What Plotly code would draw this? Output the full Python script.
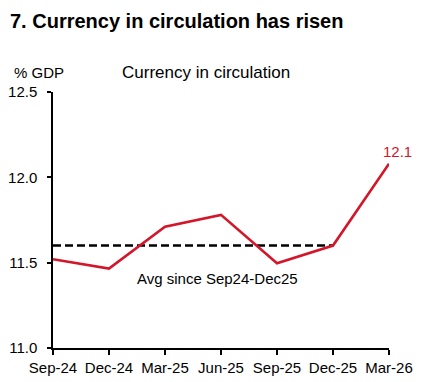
import plotly.graph_objects as go

categories = ["Sep-24", "Dec-24", "Mar-25", "Jun-25", "Sep-25", "Dec-25", "Mar-26"]
currency_pct_gdp = [11.52, 11.465, 11.71, 11.78, 11.496, 11.60, 12.08]
avg_categories = ["Sep-24", "Dec-25"]
avg_value = [11.6, 11.6]
y_ticks = [11.0, 11.5, 12.0, 12.5]

RED = "#D3162A"
FONT = "Liberation Sans, Arial, sans-serif"

fig = go.Figure()
fig.add_trace(go.Scatter(
    x=avg_categories, y=avg_value, mode="lines",
    line=dict(color="black", width=2.5, dash="8px,4px"),
    hoverinfo="skip", showlegend=False,
))
fig.add_trace(go.Scatter(
    x=categories, y=currency_pct_gdp, mode="lines",
    line=dict(color=RED, width=2.6),
    showlegend=False,
))

fig.add_annotation(
    x=categories[-1], y=currency_pct_gdp[-1], text="12.1",
    showarrow=False, xanchor="center", yanchor="bottom",
    xshift=8, yshift=2, font=dict(color=RED, size=15, family=FONT),
)
fig.add_annotation(
    x=2.93, y=avg_value[0], text="Avg since Sep24-Dec25",
    showarrow=False, xanchor="center", yanchor="top", yshift=-22,
    font=dict(color="black", size=15, family=FONT),
)
fig.add_annotation(
    xref="paper", yref="paper", x=-0.122, y=1.0, yshift=20,
    text="% GDP", showarrow=False, xanchor="left", yanchor="middle",
    font=dict(color="black", size=15, family=FONT),
)
fig.add_annotation(
    xref="paper", yref="paper", x=0.199, y=1.0, yshift=20,
    text="Currency in circulation", showarrow=False, xanchor="left", yanchor="middle",
    font=dict(color="black", size=17, family=FONT),
)
fig.add_annotation(
    xref="paper", yref="paper", x=-0.134, y=1.0, yshift=71,
    text="<b>7. Currency in circulation has risen</b>",
    showarrow=False, xanchor="left", yanchor="middle",
    font=dict(size=20, color="black", family=FONT),
)

fig.update_layout(
    width=414, height=374,
    margin=dict(l=45, r=33, t=84, b=34),
    paper_bgcolor="white", plot_bgcolor="white",
    font=dict(family=FONT, color="black", size=15),
)
fig.update_xaxes(
    type="category", categoryorder="array", categoryarray=categories,
    range=[0, 6], showgrid=False, zeroline=False, automargin=False,
    showline=True, linecolor="black", linewidth=1.5,
    ticks="outside", ticklen=5, tickwidth=1.5, tickcolor="black",
    tickfont=dict(size=15, color="black", family=FONT),
)
fig.update_yaxes(
    range=[11.0, 12.5], tickvals=y_ticks, tickformat=".1f",
    showgrid=False, zeroline=False, automargin=False,
    showline=True, linecolor="black", linewidth=1.5,
    ticks="outside", ticklen=4, tickwidth=1.5, tickcolor="black",
    ticklabelstandoff=7,
    tickfont=dict(size=15, color="black", family=FONT),
)

fig.write_html("out.html")
